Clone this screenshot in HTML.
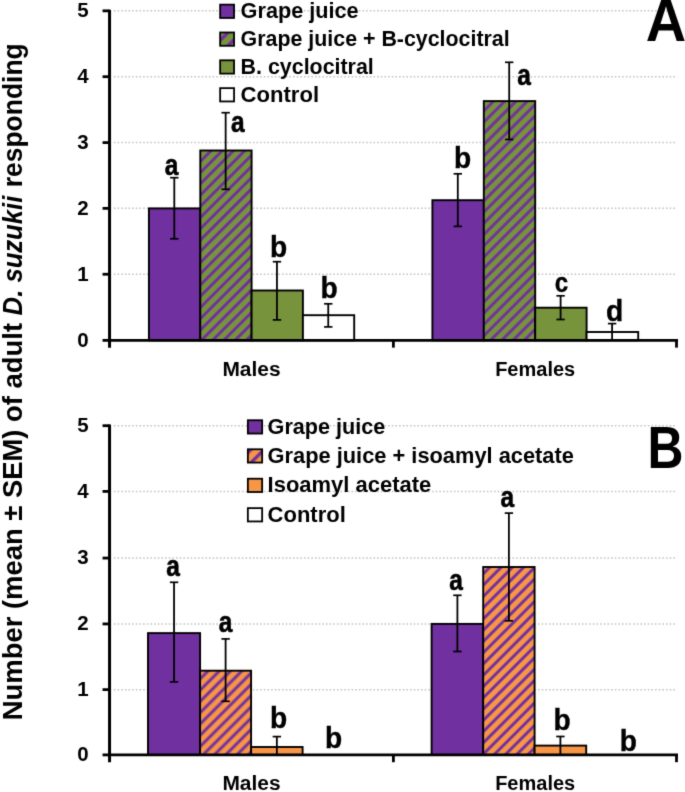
<!DOCTYPE html><html><head><meta charset="utf-8"><style>html,body{margin:0;padding:0;background:#fff;overflow:hidden}svg{display:block;will-change:transform}text{font-family:"Liberation Sans", sans-serif;font-weight:bold;fill:#000}</style></head><body>
<svg width="685" height="792" viewBox="0 0 685 792">
<defs>
<filter id="soft" x="0" y="0" width="685" height="792" filterUnits="userSpaceOnUse" color-interpolation-filters="sRGB"><feConvolveMatrix order="3" kernelMatrix="0.0144 0.0912 0.0144 0.0912 0.5776 0.0912 0.0144 0.0912 0.0144" divisor="1" edgeMode="duplicate"/></filter>
<pattern id="hgA1" patternUnits="userSpaceOnUse" width="7.9479" height="40" patternTransform="rotate(45)"><rect x="0" y="0" width="7.9479" height="40" fill="#77933C"/><rect x="-7.9757" y="0" width="2.9407" height="40" fill="#7030A0"/><rect x="-0.0279" y="0" width="2.9407" height="40" fill="#7030A0"/><rect x="7.9200" y="0" width="2.9407" height="40" fill="#7030A0"/></pattern>
<pattern id="hgA2" patternUnits="userSpaceOnUse" width="7.9479" height="40" patternTransform="rotate(45)"><rect x="0" y="0" width="7.9479" height="40" fill="#77933C"/><rect x="-2.1775" y="0" width="2.9407" height="40" fill="#7030A0"/><rect x="5.7704" y="0" width="2.9407" height="40" fill="#7030A0"/><rect x="13.7183" y="0" width="2.9407" height="40" fill="#7030A0"/></pattern>
<pattern id="hoB1" patternUnits="userSpaceOnUse" width="7.9691" height="40" patternTransform="rotate(45)"><rect x="0" y="0" width="7.9691" height="40" fill="#F79646"/><rect x="-1.4814" y="0" width="2.9486" height="40" fill="#7030A0"/><rect x="6.4877" y="0" width="2.9486" height="40" fill="#7030A0"/><rect x="14.4568" y="0" width="2.9486" height="40" fill="#7030A0"/></pattern>
<pattern id="hoB2" patternUnits="userSpaceOnUse" width="7.9691" height="40" patternTransform="rotate(45)"><rect x="0" y="0" width="7.9691" height="40" fill="#F79646"/><rect x="-3.0794" y="0" width="2.9486" height="40" fill="#7030A0"/><rect x="4.8897" y="0" width="2.9486" height="40" fill="#7030A0"/><rect x="12.8588" y="0" width="2.9486" height="40" fill="#7030A0"/></pattern>
<pattern id="hgL" patternUnits="userSpaceOnUse" width="9.3338" height="40" patternTransform="rotate(45)"><rect x="0" y="0" width="9.3338" height="40" fill="#77933C"/><rect x="-4.1550" y="0" width="3.3602" height="40" fill="#7030A0"/><rect x="5.1789" y="0" width="3.3602" height="40" fill="#7030A0"/><rect x="14.5127" y="0" width="3.3602" height="40" fill="#7030A0"/></pattern>
<pattern id="hoL" patternUnits="userSpaceOnUse" width="9.3338" height="40" patternTransform="rotate(45)"><rect x="0" y="0" width="9.3338" height="40" fill="#F79646"/><rect x="-10.3775" y="0" width="3.3602" height="40" fill="#7030A0"/><rect x="-1.0437" y="0" width="3.3602" height="40" fill="#7030A0"/><rect x="8.2901" y="0" width="3.3602" height="40" fill="#7030A0"/></pattern>
</defs>
<g filter="url(#soft)">
<rect x="0" y="0" width="685" height="792" fill="#fff"/>
<line x1="113.9" y1="274.25" x2="675.2" y2="274.25" stroke="#C4C4C4" stroke-width="1.5" stroke-dasharray="1.6 2.056"/>
<line x1="113.9" y1="208.35" x2="675.2" y2="208.35" stroke="#C4C4C4" stroke-width="1.5" stroke-dasharray="1.6 2.056"/>
<line x1="113.9" y1="142.60" x2="675.2" y2="142.60" stroke="#C4C4C4" stroke-width="1.5" stroke-dasharray="1.6 2.056"/>
<line x1="113.9" y1="76.70" x2="675.2" y2="76.70" stroke="#C4C4C4" stroke-width="1.5" stroke-dasharray="1.6 2.056"/>
<line x1="113.9" y1="10.85" x2="675.2" y2="10.85" stroke="#C4C4C4" stroke-width="1.5" stroke-dasharray="1.6 2.056"/>
<rect x="148.90" y="208.40" width="51.40" height="131.95" fill="#7030A0" stroke="#000" stroke-width="1.9"/>
<rect x="200.30" y="150.50" width="51.30" height="189.85" fill="url(#hgA1)" stroke="#000" stroke-width="1.9"/>
<rect x="251.60" y="290.50" width="51.30" height="49.85" fill="#77933C" stroke="#000" stroke-width="1.9"/>
<rect x="302.90" y="315.20" width="51.30" height="25.15" fill="#FFFFFF" stroke="#000" stroke-width="1.9"/>
<rect x="432.40" y="200.20" width="51.40" height="140.15" fill="#7030A0" stroke="#000" stroke-width="1.9"/>
<rect x="483.80" y="101.10" width="51.40" height="239.25" fill="url(#hgA2)" stroke="#000" stroke-width="1.9"/>
<rect x="535.20" y="307.70" width="51.40" height="32.65" fill="#77933C" stroke="#000" stroke-width="1.9"/>
<rect x="586.60" y="332.00" width="51.60" height="8.35" fill="#FFFFFF" stroke="#000" stroke-width="1.9"/>
<line x1="174.30" y1="238.80" x2="174.30" y2="177.70" stroke="#000" stroke-width="1.8"/>
<line x1="170.10" y1="177.70" x2="178.50" y2="177.70" stroke="#000" stroke-width="1.7"/>
<line x1="170.10" y1="238.80" x2="178.50" y2="238.80" stroke="#000" stroke-width="1.7"/>
<line x1="225.65" y1="189.30" x2="225.65" y2="112.70" stroke="#000" stroke-width="1.8"/>
<line x1="221.45" y1="112.70" x2="229.85" y2="112.70" stroke="#000" stroke-width="1.7"/>
<line x1="221.45" y1="189.30" x2="229.85" y2="189.30" stroke="#000" stroke-width="1.7"/>
<line x1="276.95" y1="319.90" x2="276.95" y2="261.70" stroke="#000" stroke-width="1.8"/>
<line x1="272.75" y1="261.70" x2="281.15" y2="261.70" stroke="#000" stroke-width="1.7"/>
<line x1="272.75" y1="319.90" x2="281.15" y2="319.90" stroke="#000" stroke-width="1.7"/>
<line x1="328.25" y1="326.90" x2="328.25" y2="303.80" stroke="#000" stroke-width="1.8"/>
<line x1="324.05" y1="303.80" x2="332.45" y2="303.80" stroke="#000" stroke-width="1.7"/>
<line x1="324.05" y1="326.90" x2="332.45" y2="326.90" stroke="#000" stroke-width="1.7"/>
<line x1="457.80" y1="226.40" x2="457.80" y2="173.80" stroke="#000" stroke-width="1.8"/>
<line x1="453.60" y1="173.80" x2="462.00" y2="173.80" stroke="#000" stroke-width="1.7"/>
<line x1="453.60" y1="226.40" x2="462.00" y2="226.40" stroke="#000" stroke-width="1.7"/>
<line x1="509.20" y1="139.50" x2="509.20" y2="62.30" stroke="#000" stroke-width="1.8"/>
<line x1="505.00" y1="62.30" x2="513.40" y2="62.30" stroke="#000" stroke-width="1.7"/>
<line x1="505.00" y1="139.50" x2="513.40" y2="139.50" stroke="#000" stroke-width="1.7"/>
<line x1="560.60" y1="319.50" x2="560.60" y2="295.80" stroke="#000" stroke-width="1.8"/>
<line x1="556.40" y1="295.80" x2="564.80" y2="295.80" stroke="#000" stroke-width="1.7"/>
<line x1="556.40" y1="319.50" x2="564.80" y2="319.50" stroke="#000" stroke-width="1.7"/>
<line x1="612.10" y1="340.35" x2="612.10" y2="323.60" stroke="#000" stroke-width="1.8"/>
<line x1="607.90" y1="323.60" x2="616.30" y2="323.60" stroke="#000" stroke-width="1.7"/>
<line x1="109.55" y1="9.65" x2="109.55" y2="347.65" stroke="#000" stroke-width="3"/>
<line x1="108.05" y1="340.35" x2="678.00" y2="340.35" stroke="#000" stroke-width="2.8"/>
<line x1="393.40" y1="340.35" x2="393.40" y2="347.65" stroke="#000" stroke-width="2.8"/>
<line x1="676.50" y1="340.35" x2="676.50" y2="347.65" stroke="#000" stroke-width="2.8"/>
<line x1="102.55" y1="340.35" x2="109.55" y2="340.35" stroke="#000" stroke-width="2.8"/>
<text x="88.6" y="346.65" font-size="20.5" text-anchor="end">0</text>
<line x1="102.55" y1="274.25" x2="109.55" y2="274.25" stroke="#000" stroke-width="2.8"/>
<text x="88.6" y="280.55" font-size="20.5" text-anchor="end">1</text>
<line x1="102.55" y1="208.35" x2="109.55" y2="208.35" stroke="#000" stroke-width="2.8"/>
<text x="88.6" y="214.65" font-size="20.5" text-anchor="end">2</text>
<line x1="102.55" y1="142.60" x2="109.55" y2="142.60" stroke="#000" stroke-width="2.8"/>
<text x="88.6" y="148.90" font-size="20.5" text-anchor="end">3</text>
<line x1="102.55" y1="76.70" x2="109.55" y2="76.70" stroke="#000" stroke-width="2.8"/>
<text x="88.6" y="83.00" font-size="20.5" text-anchor="end">4</text>
<line x1="102.55" y1="10.85" x2="109.55" y2="10.85" stroke="#000" stroke-width="2.8"/>
<text x="88.6" y="17.15" font-size="20.5" text-anchor="end">5</text>
<text x="251.5" y="375.60" font-size="20" text-anchor="middle" textLength="58.2" lengthAdjust="spacingAndGlyphs">Males</text>
<text x="535.2" y="375.60" font-size="20" text-anchor="middle">Females</text>
<line x1="113.9" y1="689.63" x2="675.2" y2="689.63" stroke="#C4C4C4" stroke-width="1.5" stroke-dasharray="1.6 2.056"/>
<line x1="113.9" y1="623.93" x2="675.2" y2="623.93" stroke="#C4C4C4" stroke-width="1.5" stroke-dasharray="1.6 2.056"/>
<line x1="113.9" y1="558.07" x2="675.2" y2="558.07" stroke="#C4C4C4" stroke-width="1.5" stroke-dasharray="1.6 2.056"/>
<line x1="113.9" y1="491.40" x2="675.2" y2="491.40" stroke="#C4C4C4" stroke-width="1.5" stroke-dasharray="1.6 2.056"/>
<line x1="113.9" y1="425.70" x2="675.2" y2="425.70" stroke="#C4C4C4" stroke-width="1.5" stroke-dasharray="1.6 2.056"/>
<rect x="148.00" y="633.10" width="52.10" height="121.80" fill="#7030A0" stroke="#000" stroke-width="1.9"/>
<rect x="200.10" y="670.70" width="51.00" height="84.20" fill="url(#hoB1)" stroke="#000" stroke-width="1.9"/>
<rect x="251.10" y="747.00" width="51.50" height="7.90" fill="#F79646" stroke="#000" stroke-width="1.9"/>
<rect x="431.60" y="623.90" width="51.60" height="131.00" fill="#7030A0" stroke="#000" stroke-width="1.9"/>
<rect x="483.20" y="567.00" width="51.40" height="187.90" fill="url(#hoB2)" stroke="#000" stroke-width="1.9"/>
<rect x="534.60" y="745.60" width="51.60" height="9.30" fill="#F79646" stroke="#000" stroke-width="1.9"/>
<line x1="174.05" y1="681.90" x2="174.05" y2="582.30" stroke="#000" stroke-width="1.8"/>
<line x1="169.85" y1="582.30" x2="178.25" y2="582.30" stroke="#000" stroke-width="1.7"/>
<line x1="169.85" y1="681.90" x2="178.25" y2="681.90" stroke="#000" stroke-width="1.7"/>
<line x1="225.60" y1="701.30" x2="225.60" y2="638.90" stroke="#000" stroke-width="1.8"/>
<line x1="221.40" y1="638.90" x2="229.80" y2="638.90" stroke="#000" stroke-width="1.7"/>
<line x1="221.40" y1="701.30" x2="229.80" y2="701.30" stroke="#000" stroke-width="1.7"/>
<line x1="276.85" y1="754.90" x2="276.85" y2="736.60" stroke="#000" stroke-width="1.8"/>
<line x1="272.65" y1="736.60" x2="281.05" y2="736.60" stroke="#000" stroke-width="1.7"/>
<line x1="457.40" y1="651.50" x2="457.40" y2="595.30" stroke="#000" stroke-width="1.8"/>
<line x1="453.20" y1="595.30" x2="461.60" y2="595.30" stroke="#000" stroke-width="1.7"/>
<line x1="453.20" y1="651.50" x2="461.60" y2="651.50" stroke="#000" stroke-width="1.7"/>
<line x1="508.90" y1="620.80" x2="508.90" y2="513.10" stroke="#000" stroke-width="1.8"/>
<line x1="504.70" y1="513.10" x2="513.10" y2="513.10" stroke="#000" stroke-width="1.7"/>
<line x1="504.70" y1="620.80" x2="513.10" y2="620.80" stroke="#000" stroke-width="1.7"/>
<line x1="560.40" y1="754.90" x2="560.40" y2="736.50" stroke="#000" stroke-width="1.8"/>
<line x1="556.20" y1="736.50" x2="564.60" y2="736.50" stroke="#000" stroke-width="1.7"/>
<line x1="109.55" y1="424.50" x2="109.55" y2="762.20" stroke="#000" stroke-width="3"/>
<line x1="108.05" y1="754.90" x2="678.00" y2="754.90" stroke="#000" stroke-width="2.8"/>
<line x1="393.40" y1="754.90" x2="393.40" y2="762.20" stroke="#000" stroke-width="2.8"/>
<line x1="676.50" y1="754.90" x2="676.50" y2="762.20" stroke="#000" stroke-width="2.8"/>
<line x1="102.55" y1="754.90" x2="109.55" y2="754.90" stroke="#000" stroke-width="2.8"/>
<text x="88.6" y="761.20" font-size="20.5" text-anchor="end">0</text>
<line x1="102.55" y1="689.63" x2="109.55" y2="689.63" stroke="#000" stroke-width="2.8"/>
<text x="88.6" y="695.93" font-size="20.5" text-anchor="end">1</text>
<line x1="102.55" y1="623.93" x2="109.55" y2="623.93" stroke="#000" stroke-width="2.8"/>
<text x="88.6" y="630.23" font-size="20.5" text-anchor="end">2</text>
<line x1="102.55" y1="558.07" x2="109.55" y2="558.07" stroke="#000" stroke-width="2.8"/>
<text x="88.6" y="564.37" font-size="20.5" text-anchor="end">3</text>
<line x1="102.55" y1="491.40" x2="109.55" y2="491.40" stroke="#000" stroke-width="2.8"/>
<text x="88.6" y="497.70" font-size="20.5" text-anchor="end">4</text>
<line x1="102.55" y1="425.70" x2="109.55" y2="425.70" stroke="#000" stroke-width="2.8"/>
<text x="88.6" y="432.00" font-size="20.5" text-anchor="end">5</text>
<text x="251.5" y="790.10" font-size="20" text-anchor="middle" textLength="58.2" lengthAdjust="spacingAndGlyphs">Males</text>
<text x="535.2" y="790.10" font-size="20" text-anchor="middle">Females</text>
<rect x="220.15" y="4.65" width="13.90" height="13.30" fill="#7030A0" stroke="#000" stroke-width="1.8"/>
<text x="240.6" y="18.20" font-size="21.3" textLength="118.0" lengthAdjust="spacingAndGlyphs">Grape juice</text>
<rect x="220.15" y="32.48" width="13.90" height="13.30" fill="url(#hgL)" stroke="#000" stroke-width="1.8"/>
<text x="240.6" y="46.03" font-size="21.3" textLength="269.1" lengthAdjust="spacingAndGlyphs">Grape juice + B-cyclocitral</text>
<rect x="220.15" y="60.31" width="13.90" height="13.30" fill="#77933C" stroke="#000" stroke-width="1.8"/>
<text x="240.6" y="73.86" font-size="21.3" textLength="133.2" lengthAdjust="spacingAndGlyphs">B. cyclocitral</text>
<rect x="220.15" y="88.14" width="13.90" height="13.30" fill="#fff" stroke="#000" stroke-width="1.8"/>
<text x="240.6" y="101.69" font-size="21.3" textLength="78.5" lengthAdjust="spacingAndGlyphs">Control</text>
<rect x="247.85" y="420.25" width="14.30" height="13.30" fill="#7030A0" stroke="#000" stroke-width="1.8"/>
<text x="267.6" y="434.00" font-size="21.3" textLength="117.7" lengthAdjust="spacingAndGlyphs">Grape juice</text>
<rect x="247.85" y="449.28" width="14.30" height="13.30" fill="url(#hoL)" stroke="#000" stroke-width="1.8"/>
<text x="267.6" y="463.03" font-size="21.3" textLength="306.3" lengthAdjust="spacingAndGlyphs">Grape juice + isoamyl acetate</text>
<rect x="247.85" y="478.71" width="14.30" height="13.30" fill="#F79646" stroke="#000" stroke-width="1.8"/>
<text x="267.6" y="492.46" font-size="21.3" textLength="163.6" lengthAdjust="spacingAndGlyphs">Isoamyl acetate</text>
<rect x="247.85" y="508.14" width="14.30" height="13.30" fill="#fff" stroke="#000" stroke-width="1.8"/>
<text x="267.6" y="521.89" font-size="21.3" textLength="78.2" lengthAdjust="spacingAndGlyphs">Control</text>
<text x="171.50" y="174.95" font-size="29.2" text-anchor="middle" textLength="13.6" lengthAdjust="spacingAndGlyphs" stroke="#000" stroke-width="0.6">a</text>
<text x="237.90" y="131.95" font-size="29.2" text-anchor="middle" textLength="13.6" lengthAdjust="spacingAndGlyphs" stroke="#000" stroke-width="0.6">a</text>
<text x="278.60" y="256.50" font-size="29.3" text-anchor="middle" textLength="17.2" lengthAdjust="spacingAndGlyphs" stroke="#000" stroke-width="0.4">b</text>
<text x="329.00" y="298.30" font-size="29.3" text-anchor="middle" textLength="17.2" lengthAdjust="spacingAndGlyphs" stroke="#000" stroke-width="0.4">b</text>
<text x="462.60" y="167.80" font-size="29.3" text-anchor="middle" textLength="17.2" lengthAdjust="spacingAndGlyphs" stroke="#000" stroke-width="0.4">b</text>
<text x="524.10" y="84.75" font-size="29.2" text-anchor="middle" textLength="13.6" lengthAdjust="spacingAndGlyphs" stroke="#000" stroke-width="0.6">a</text>
<text x="561.35" y="291.70" font-size="28.5" text-anchor="middle" textLength="13.4" lengthAdjust="spacingAndGlyphs" stroke="#000" stroke-width="0.4">c</text>
<text x="614.65" y="321.40" font-size="29.3" text-anchor="middle" textLength="17.2" lengthAdjust="spacingAndGlyphs" stroke="#000" stroke-width="0.4">d</text>
<text x="173.10" y="576.35" font-size="29.2" text-anchor="middle" textLength="13.6" lengthAdjust="spacingAndGlyphs" stroke="#000" stroke-width="0.6">a</text>
<text x="225.45" y="632.45" font-size="29.2" text-anchor="middle" textLength="13.6" lengthAdjust="spacingAndGlyphs" stroke="#000" stroke-width="0.6">a</text>
<text x="278.55" y="728.30" font-size="29.3" text-anchor="middle" textLength="17.2" lengthAdjust="spacingAndGlyphs" stroke="#000" stroke-width="0.4">b</text>
<text x="333.50" y="748.10" font-size="29.3" text-anchor="middle" textLength="17.2" lengthAdjust="spacingAndGlyphs" stroke="#000" stroke-width="0.4">b</text>
<text x="456.05" y="590.25" font-size="29.2" text-anchor="middle" textLength="13.6" lengthAdjust="spacingAndGlyphs" stroke="#000" stroke-width="0.6">a</text>
<text x="507.35" y="506.95" font-size="29.2" text-anchor="middle" textLength="13.6" lengthAdjust="spacingAndGlyphs" stroke="#000" stroke-width="0.6">a</text>
<text x="562.10" y="729.80" font-size="29.3" text-anchor="middle" textLength="17.2" lengthAdjust="spacingAndGlyphs" stroke="#000" stroke-width="0.4">b</text>
<text x="628.40" y="750.50" font-size="29.3" text-anchor="middle" textLength="17.2" lengthAdjust="spacingAndGlyphs" stroke="#000" stroke-width="0.4">b</text>
<text x="666" y="40.8" font-size="59.4" text-anchor="middle" textLength="40.4" lengthAdjust="spacingAndGlyphs">A</text>
<text x="665.6" y="467.9" font-size="59.4" text-anchor="middle" textLength="36" lengthAdjust="spacingAndGlyphs">B</text>
<text transform="translate(22.3,0) rotate(-90)" x="-720.20" y="0" font-size="27" textLength="397.2" lengthAdjust="spacingAndGlyphs">Number (mean &#177; SEM) of adult</text>
<text transform="translate(22.3,0) rotate(-90)" x="-315.40" y="0" font-size="27" font-style="italic" textLength="119.7" lengthAdjust="spacingAndGlyphs">D. suzukii</text>
<text transform="translate(22.3,0) rotate(-90)" x="-187.30" y="0" font-size="27" textLength="144.0" lengthAdjust="spacingAndGlyphs">responding</text>
</g>
</svg></body></html>
